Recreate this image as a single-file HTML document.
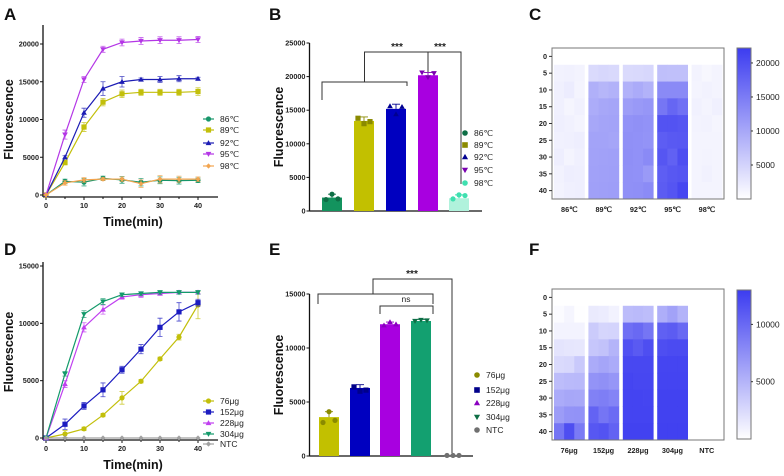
<!DOCTYPE html>
<html><head><meta charset="utf-8">
<style>
body{margin:0;background:#fff;}
svg{display:block;font-family:"Liberation Sans",Arial,sans-serif;}
.tk{font-size:7.3px;font-weight:bold;fill:#222;}
.st{font-size:10px;font-weight:bold;fill:#222;}
.lg{font-size:8.5px;fill:#222;}
.at{font-size:12.5px;font-weight:bold;fill:#111;}
.pl{font-size:17px;font-weight:bold;fill:#111;}
</style></head>
<body>
<svg id="fig" width="784" height="476" viewBox="0 0 784 476"></svg>
<script>
const times=[0,5,10,15,20,25,30,35,40];
const tempLabels=["86℃","89℃","92℃","95℃","98℃"];
const tempA86=[0,1800,1700,2200,2000,1700,1950,1900,1950];
const tempA89=[0,4300,9000,12300,13400,13600,13600,13600,13700];
const tempA92=[0,5000,10900,14100,15000,15300,15300,15400,15400];
const tempA95=[0,8000,15300,19300,20200,20400,20500,20500,20600];
const tempA98=[0,1600,2000,2100,2100,1500,2100,2100,2100];
const errA=[[0,300,500,300,450,500,450,450,300],[0,300,600,500,500,400,400,400,500],[0,200,600,900,700,200,400,400,200],[0,600,400,400,450,450,450,450,400],[0,300,300,200,300,500,500,400,300]];
const barB=[2000,13400,15200,20200,1900];
const repB=[[1700,2500,1800],[13800,13000,13300],[15600,14400,15500],[20600,19900,20500],[1800,2400,2300]];
const errB=[500,600,700,400,500];
const doseLabels=["76μg","152μg","228μg","304μg","NTC"];
const doseD76=[0,350,800,2000,3500,4950,6900,8800,11600];
const doseD152=[0,1200,2800,4200,5950,7750,9650,11000,11800];
const doseD228=[0,4700,9650,11200,12300,12500,12600,12700,12700];
const doseD304=[0,5600,10800,11900,12500,12600,12700,12700,12700];
const doseDNTC=[0,0,0,0,0,0,0,0,0];
const errD=[[0,300,150,150,550,150,150,250,1200],[0,450,300,600,300,400,800,800,300],[0,300,400,400,200,250,150,150,150],[0,200,300,250,150,150,150,150,150],[0,0,0,0,0,0,0,0,0]];
const barE=[3600,6300,12200,12500,0];
const repE=[[3100,4100,3300],[6400,6000,6100],[12100,12400,12200],[12500,12600,12550],[50,50,50]];
const errE=[500,300,200,150,0];
const heatC=[
[[0,0,0],[1500,1600,1400],[1700,2200,1200],[1700,1100,1600],[1800,1600,1300],[1600,1700,1900],[1900,1200,1700],[1500,1900,1800],[1400,1700,1800]],
[[0,0,0],[4200,4600,4300],[9000,8300,8800],[9500,10000,10200],[10000,10400,10500],[10500,10500,10300],[10600,10700,10800],[10700,10800,10900],[10800,10900,11000]],
[[0,0,0],[4200,4300,4600],[8900,9600,8800],[11200,11600,12000],[12400,12600,12400],[12600,12500,12300],[12700,12500,13300],[12600,12500,11500],[12600,12800,13200]],
[[0,0,0],[7300,7200,7200],[13300,13300,13300],[15600,17400,16300],[19600,19600,19200],[18400,18900,19000],[19200,18000,20100],[18300,19000,19400],[18600,19400,20900]],
[[0,0,0],[1400,900,1300],[1300,1500,1300],[1600,1300,1700],[1400,1500,1100],[1300,1300,1300],[1200,1400,1300],[1300,1600,1300],[1200,1300,1300]]];
const heatF=[
[[0,0,0],[300,700,100],[800,800,800],[1800,1700,1600],[2500,2600,3600],[4400,4600,4700],[5600,5900,5800],[6600,7200,7300],[9200,11800,8900]],
[[0,0,0],[1400,1300,900],[3500,2800,2900],[3800,4100,5000],[5600,6000,5600],[7200,7400,7000],[8400,8600,8200],[10400,9200,9900],[11200,11500,10500]],
[[0,0,0],[4500,4600,4400],[9600,10000,9200],[11600,11000,11800],[12200,12200,12200],[12400,12300,12300],[12500,12500,12400],[12500,12500,12500],[12600,12600,12600]],
[[0,0,0],[5400,6200,5100],[10600,10900,10000],[11800,12000,12000],[12400,12400,12400],[12500,12500,12500],[12600,12600,12600],[12600,12600,12600],[12700,12700,12700]],
[[0,0,0],[0,0,0],[0,0,0],[0,0,0],[0,0,0],[0,0,0],[0,0,0],[0,0,0],[0,0,0]]];
const colorTicksC=[5000,10000,15000,20000];
const colorTicksF=[5000,10000];

const NS="http://www.w3.org/2000/svg";
const svg=document.getElementById('fig');
function mk(tag,attrs,parent){const e=document.createElementNS(NS,tag);for(const k in attrs)e.setAttribute(k,attrs[k]);(parent||svg).appendChild(e);return e;}
function txt(x,y,s,cls,anchor,parent){const t=mk('text',{x:x,y:y,class:cls,'text-anchor':anchor||'start'},parent);t.textContent=s;return t;}

function marker(g,shape,x,y,c,r){
  let m;
  if(shape==='circle')m=mk('circle',{cx:x,cy:y,r:r,fill:c},g);
  else if(shape==='square')m=mk('rect',{x:x-r,y:y-r,width:2*r,height:2*r,fill:c},g);
  else if(shape==='tri')m=mk('path',{d:`M${x},${y-r*1.1}L${x+r*1.1},${y+r*0.8}L${x-r*1.1},${y+r*0.8}Z`,fill:c},g);
  else if(shape==='itri')m=mk('path',{d:`M${x},${y+r*1.1}L${x+r*1.1},${y-r*0.8}L${x-r*1.1},${y-r*0.8}Z`,fill:c},g);
  else m=mk('path',{d:`M${x},${y-r}L${x+r},${y}L${x},${y+r}L${x-r},${y}Z`,fill:c},g);
  return m;
}

function axesLine(xAxisX0,xAxisX1,yTop,y0,ticks,yf,title,titleY,titleX){
  const g=mk('g',{});
  
  
  mk('line',{x1:xAxisX0,y1:yTop,x2:xAxisX0,y2:y0,stroke:'#111','stroke-width':1.3},g);
  mk('line',{x1:xAxisX0,y1:y0,x2:xAxisX1,y2:y0,stroke:'#111','stroke-width':1.3},g);
  ticks.forEach(v=>{const y=yf(v);mk('line',{x1:xAxisX0-3,y1:y,x2:xAxisX0,y2:y,stroke:'#111'},g);
    const t=txt(xAxisX0-4,y+2.5,String(v),'tk','end',g);
    
    });
  const t=mk('text',{x:0,y:0,class:'at','text-anchor':'middle',transform:`translate(${titleX},${titleY}) rotate(-90)`},g);
  t.textContent=title;
  
  
  return g;
}

function linePanel(series,errs,colors,shapes,labels,yTop,y0,ymax,ticks,legendY,panel){
  const xf=t=>46+t*152/40;
  const yf=v=>y0-v*(y0-yTop)/ymax;
  const g=axesLine(43,218,yTop-(panel==='A'?19:4),y0+2,ticks,yf,'Fluorescence',(yTop+y0)/2,13);
  times.forEach((t,i)=>{if(t%10===0){const x=xf(t);mk('line',{x1:x,y1:y0+2,x2:x,y2:y0+5,stroke:'#111'},g);
    const l=txt(x,y0+13,String(t),'tk','middle',g);
    
    }
    else{const x=xf(t);mk('line',{x1:x,y1:y0+2,x2:x,y2:y0+4,stroke:'#111'},g);}});
  const xt=txt(133,y0+31,'Time(min)','at','middle',g);
  
  
  series.forEach((s,k)=>{
    const sg=mk('g',{},g);
    
    
    const pts=s.map((v,i)=>xf(times[i])+','+yf(v)).join(' ');
    mk('polyline',{points:pts,fill:'none',stroke:colors[k],'stroke-width':1.2},sg);
    s.forEach((v,i)=>{const e=errs[k][i];if(e>0){const x=xf(times[i]);
      mk('path',{d:`M${x},${yf(v+e)}V${yf(v-e)}M${x-2.5},${yf(v+e)}h5M${x-2.5},${yf(v-e)}h5`,stroke:colors[k],'stroke-width':0.8,fill:'none','stroke-opacity':0.8},sg);}
      const m=marker(sg,shapes[k],xf(times[i]),yf(v),colors[k],2.6);
      
      });
    const lg=mk('g',{},g);
    
    
    const ly=legendY[k];
    mk('line',{x1:203,y1:ly,x2:214,y2:ly,stroke:colors[k],'stroke-width':1.2},lg);
    marker(lg,shapes[k],208.5,ly,colors[k],2.6);
    txt(220,ly+3,labels[k],'lg','start',lg);
  });
}
linePanel([tempA86,tempA89,tempA92,tempA95,tempA98],errA,['#17966a','#c2bf0a','#1c1cb4','#b436e6','#f2a550'],['circle','square','tri','itri','diamond'],tempLabels,44,195,20000,[0,5000,10000,15000,20000],[119,130,143,154,166],'A');
linePanel([doseD76,doseD152,doseD228,doseD304,doseDNTC],errD,['#c2bf0a','#1c1cc0','#c040f0','#139a6a','#a0a0a0'],['circle','square','tri','itri','diamond'],doseLabels,266,438,15000,[0,5000,10000,15000],[401,412,423,434,444],'D');

function barPanel(vals,reps,errs,fills,mcols,shapes,labels,xc,yTop,y0,ymax,ticks,axisEnd,legendY,extra){
  const yf=v=>y0-v*(y0-yTop)/ymax;
  const g=axesLine(309.5,axisEnd,yTop,y0,ticks,yf,'Fluorescence',(yTop+y0)/2,283);
  vals.forEach((v,k)=>{
    const bg=mk('g',{},g);
    
    
    if(v>0)mk('rect',{x:xc[k]-10,y:yf(v),width:20,height:y0-yf(v),fill:fills[k]},bg);
    if(errs[k]>0)mk('path',{d:`M${xc[k]},${yf(v)}V${yf(v+errs[k])}M${xc[k]-4},${yf(v+errs[k])}h8`,stroke:mcols[k],'stroke-width':0.9,fill:'none'},bg);
    reps[k].forEach((r,j)=>{marker(bg,shapes[k],xc[k]-6+j*6,yf(r),mcols[k],2.6);});
    const lg=mk('g',{},g);
    
    
    marker(lg,shapes[k],legendX,legendY[k],mcols[k],2.8);
    txt(legendX+9,legendY[k]+3,labels[k],'lg','start',lg);
  });
  extra(g,yf);
}
let legendX=465;
barPanel(barB,repB,errB,['#13935e','#c2c000','#0000c0','#a800e0','#b0f2dc'],['#0d6e45','#8a8a00','#000090','#7a00b0','#3fe0b0'],['circle','square','tri','itri','circle'],tempLabels,[332,364,396,428,459],43,211,25000,[0,5000,10000,15000,20000,25000],482,[133,145,157,170,183],(g,yf)=>{
  const s=mk('g',{},g);
  
  
  mk('path',{d:'M322,100V82H407V86M364.5,82V52H461V184M428,52V72',stroke:'#333','stroke-width':1,fill:'none'},s);
  txt(397,50,'***','st','middle',s);txt(440,50,'***','st','middle',s);
});
legendX=477;
barPanel(barE,repE,errE,['#c2c000','#0000c0','#a800e0','#13a070','#888'],['#8a8a00','#00008a','#8a00c0','#0d6e45','#707070'],['circle','square','tri','itri','circle'],doseLabels,[329,360,390,421,453],294,456,15000,[0,5000,10000,15000],473,[375,390,403,417,430],(g,yf)=>{
  const s=mk('g',{},g);
  
  
  mk('path',{d:'M318,304V294H433V304M373,294V279H452V453M380,314V306H433V314',stroke:'#333','stroke-width':1,fill:'none'},s);
  txt(412,277,'***','st','middle',s);txt(406,302,'ns','lg','middle',s);
});

function heatPanel(data,labels,x0,y0,x1,y1,vmax,cticks,cbY0,cbY1){
  const g=mk('g',{});
  
  
  const col=v=>{const f=Math.max(0,Math.min(1,v/vmax));return `rgb(${Math.round(255-195*f)},${Math.round(255-195*f)},${Math.round(255-15*f)})`;};
  const gw=(x1-x0)/5,rh=(y1-y0)/9,gap=4,rw=(gw-gap)/3;
  data.forEach((grp,k)=>{grp.forEach((row,i)=>{row.forEach((v,j)=>{
    const c=mk('rect',{x:x0+k*gw+gap/2+j*rw,y:y0+i*rh,width:rw+0.4,height:rh+0.4,fill:col(v)},g);
    
    });});
    const l=txt(x0+k*gw+gw/2,y1+13,labels[k],'tk','middle',g);
    
    });
  mk('rect',{x:x0,y:y0,width:x1-x0,height:y1-y0,fill:'none',stroke:'#777','stroke-width':1},g);
  times.forEach((t,i)=>{const y=y0+(i+0.5)*rh;mk('line',{x1:x0-3,y1:y,x2:x0,y2:y,stroke:'#333'},g);
    const l=txt(x0-5,y+2.5,String(t),'tk','end',g);
    
    });
  const cb=mk('g',{},g);
  
  
  const id='grad'+x0+y0;
  const d=mk('defs',{},cb);const lgr=mk('linearGradient',{id:id,x1:0,y1:1,x2:0,y2:0},d);
  mk('stop',{offset:0,'stop-color':'#fff'},lgr);mk('stop',{offset:1,'stop-color':col(vmax)},lgr);
  mk('rect',{x:737,y:cbY0,width:14,height:cbY1-cbY0,fill:`url(#${id})`,stroke:'#777'},cb);
  cticks.forEach(v=>{const y=cbY1-(v/vmax)*(cbY1-cbY0);mk('line',{x1:751,y1:y,x2:753,y2:y,stroke:'#333'},cb);txt(756,y+3,String(v),'lg','start',cb);});
}
heatPanel(heatC,tempLabels,552,48,724,199,22200,colorTicksC,48,199);
heatPanel(heatF,doseLabels,552,289,724,440,13000,colorTicksF,290,439);

[['A',4,20],['B',269,20],['C',529,20],['D',4,255],['E',269,255],['F',529,255]].forEach(p=>{
  const t=txt(p[1],p[2],p[0],'pl','start');
  
  });
</script>
</body></html>
